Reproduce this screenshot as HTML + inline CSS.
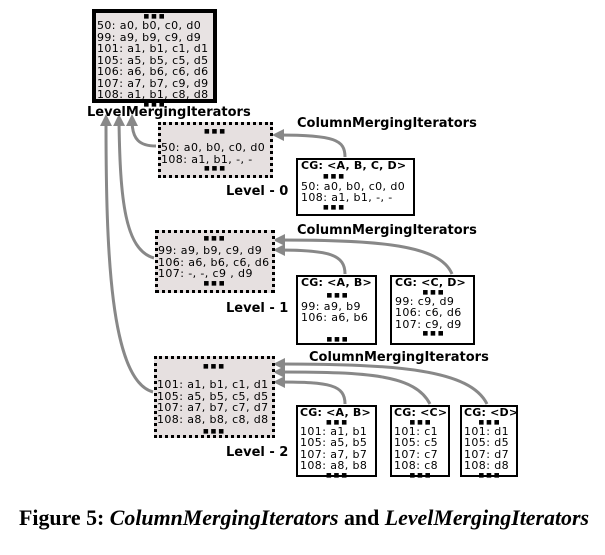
<!DOCTYPE html>
<html><head><meta charset="utf-8"><style>
body{margin:0;width:605px;height:555px;background:#fff;position:relative;overflow:hidden;font-family:"DejaVu Sans","Liberation Sans",sans-serif;}
.b{position:absolute;box-sizing:border-box;font-size:11px;letter-spacing:0.4px;line-height:11.5px;color:#000;white-space:nowrap;}
.solid{border:2.5px solid #000;background:#fff;}
.thick{border:4px solid #000;background:#e8e3e3;}
.dot{border:3px dotted #000;background:#e6e0e0;}
.d{text-align:center;font-size:6px;line-height:7px;height:7px;letter-spacing:2px;overflow:visible;}
.lab{position:absolute;font-weight:bold;font-size:13px;white-space:nowrap;}
.h{font-weight:bold;font-size:11px;letter-spacing:0.2px;}
svg{position:absolute;left:0;top:0;}
</style></head><body>
<svg width="605" height="555">
<defs><marker id="ah" markerWidth="4" markerHeight="4" refX="2" refY="2" orient="auto" markerUnits="strokeWidth"><path d="M0,0 L4,2 L0,4 z" fill="#888"/></marker></defs>
<g fill="none" stroke="#888" stroke-width="3" marker-end="url(#ah)">
<path d="M156,146 C140,146 132,140 132,120"/>
<path d="M154,258 C125,250 120,200 119,120"/>
<path d="M153,392 C110,380 106,250 106,120"/>
<path d="M345,157 C345,140 335,135 278,135"/>
<path d="M345,274 C345,255 330,250 279,250"/>
<path d="M452,274 C440,245 380,240 279,240"/>
<path d="M345,404 C345,385 330,382 279,382"/>
<path d="M430,404 C415,375 370,372 279,372"/>
<path d="M487,404 C470,370 400,364 279,364"/>
</g></svg>

<div class="b thick" style="left:92px;top:9px;width:125px;height:94px;padding:0 0 0 1px;">
<div class="d">■■■</div>50: a0, b0, c0, d0<br>99: a9, b9, c9, d9<br>101: a1, b1, c1, d1<br>105: a5, b5, c5, d5<br>106: a6, b6, c6, d6<br>107: a7, b7, c9, d9<br>108: a1, b1, c8, d8<div class="d">■■■</div></div>
<div class="lab" style="left:87px;top:105px;">LevelMergingIterators</div>

<div class="b dot" style="left:158px;top:122px;width:115px;height:56px;padding:3px 0 0 0px;"><div class="d">■■■</div><div style="height:7px"></div>50: a0, b0, c0, d0<br>108: a1, b1, -, -<div class="d">■■■</div></div>
<div class="lab" style="left:297px;top:116px;">ColumnMergingIterators</div>
<div class="b solid" style="left:296px;top:158px;width:119px;height:58px;padding:0 0 0 3px;"><div class="h">CG: &lt;A, B, C, D&gt;</div><div class="d" style="text-align:left;padding-left:22px;height:9px;line-height:10px">■■■</div>50: a0, b0, c0, d0<br>108: a1, b1, -, -<div class="d" style="text-align:left;padding-left:22px">■■■</div></div>
<div class="lab" style="left:226px;top:184px;">Level - 0</div>

<div class="b dot" style="left:155px;top:230px;width:120px;height:63px;padding:2px 0 0 0px;"><div class="d" style="height:10px">■■■</div>99: a9, b9, c9, d9<br>106: a6, b6, c6, d6<br>107: -, -, c9 , d9<div class="d">■■■</div></div>
<div class="lab" style="left:297px;top:223px;">ColumnMergingIterators</div>
<div class="b solid" style="left:296px;top:275px;width:81px;height:70px;padding:0 0 0 3px;"><div class="h">CG: &lt;A, B&gt;</div><div class="d" style="height:12px;line-height:14px">■■■</div>99: a9, b9<br>106: a6, b6<div class="d" style="margin-top:12px">■■■</div></div>
<div class="b solid" style="left:390px;top:275px;width:85px;height:70px;padding:0 0 0 3px;"><div class="h">CG: &lt;C, D&gt;</div><div class="d">■■■</div>99: c9, d9<br>106: c6, d6<br>107: c9, d9<div class="d">■■■</div></div>
<div class="lab" style="left:226px;top:301px;">Level - 1</div>

<div class="b dot" style="left:154px;top:356px;width:121px;height:82px;padding:4px 0 0 0px;"><div class="d">■■■</div><div style="height:9px"></div>101: a1, b1, c1, d1<br>105: a5, b5, c5, d5<br>107: a7, b7, c7, d7<br>108: a8, b8, c8, d8<div class="d" style="margin-top:3px">■■■</div></div>
<div class="lab" style="left:309px;top:350px;">ColumnMergingIterators</div>
<div class="b solid" style="left:296px;top:405px;width:81px;height:72px;padding:0 0 0 2px;"><div class="h">CG: &lt;A, B&gt;</div><div class="d">■■■</div>101: a1, b1<br>105: a5, b5<br>107: a7, b7<br>108: a8, b8<div class="d">■■■</div></div>
<div class="b solid" style="left:390px;top:405px;width:60px;height:72px;padding:0 0 0 2px;"><div class="h">CG: &lt;C&gt;</div><div class="d">■■■</div>101: c1<br>105: c5<br>107: c7<br>108: c8<div class="d">■■■</div></div>
<div class="b solid" style="left:460px;top:405px;width:58px;height:72px;padding:0 0 0 2px;"><div class="h">CG: &lt;D&gt;</div><div class="d">■■■</div>101: d1<br>105: d5<br>107: d7<br>108: d8<div class="d">■■■</div></div>
<div class="lab" style="left:226px;top:445px;">Level - 2</div>

<div style="position:absolute;left:19px;top:505px;font-family:'Liberation Serif',serif;font-size:21.9px;font-weight:bold;white-space:nowrap;">Figure 5: <i>ColumnMergingIterators</i> and <i>LevelMergingIterators</i></div>
</body></html>
